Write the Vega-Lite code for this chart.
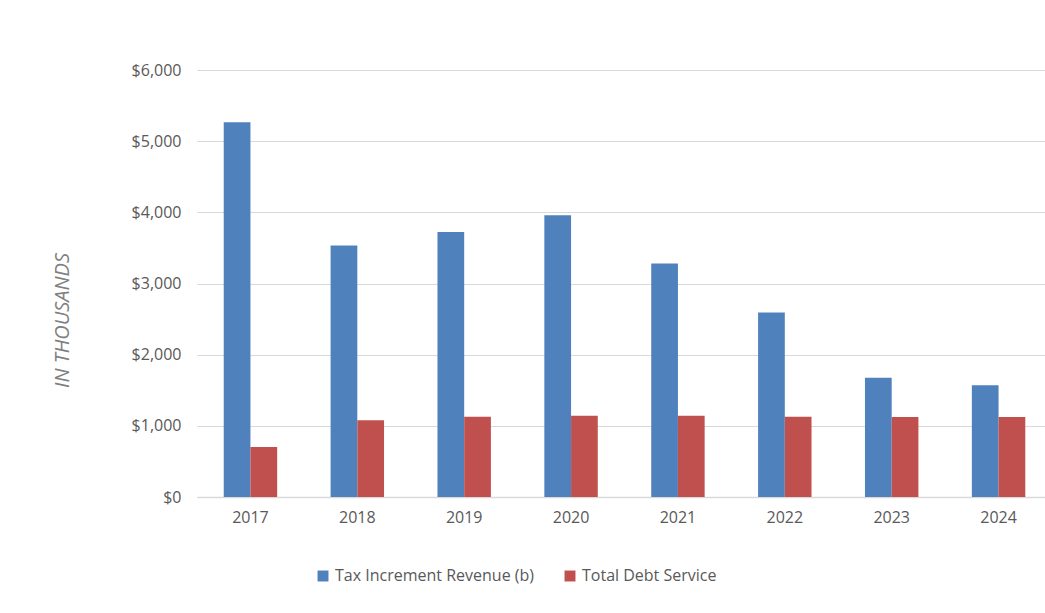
{
  "$schema": "https://vega.github.io/schema/vega-lite/v6.json",
  "width": 855,
  "height": 427,
  "autosize": {"type": "none"},
  "padding": {"left": 197, "top": 70, "right": 0, "bottom": 116},
  "background": "white",
  "config": {
    "view": {"stroke": null},
    "font": "Open Sans",
    "axis": {"labelFont": "Open Sans", "labelColor": "#595959", "labelFontSize": 16},
    "legend": {"labelFont": "Open Sans", "labelColor": "#595959", "labelFontSize": 16}
  },
  "data": {
    "values": [
      {"year": "2017", "series": "Tax Increment Revenue (b)", "value": 5267},
      {"year": "2017", "series": "Total Debt Service", "value": 702},
      {"year": "2018", "series": "Tax Increment Revenue (b)", "value": 3535},
      {"year": "2018", "series": "Total Debt Service", "value": 1077},
      {"year": "2019", "series": "Tax Increment Revenue (b)", "value": 3722},
      {"year": "2019", "series": "Total Debt Service", "value": 1127},
      {"year": "2020", "series": "Tax Increment Revenue (b)", "value": 3958},
      {"year": "2020", "series": "Total Debt Service", "value": 1141},
      {"year": "2021", "series": "Tax Increment Revenue (b)", "value": 3282},
      {"year": "2021", "series": "Total Debt Service", "value": 1141},
      {"year": "2022", "series": "Tax Increment Revenue (b)", "value": 2592},
      {"year": "2022", "series": "Total Debt Service", "value": 1127},
      {"year": "2023", "series": "Tax Increment Revenue (b)", "value": 1677},
      {"year": "2023", "series": "Total Debt Service", "value": 1124},
      {"year": "2024", "series": "Tax Increment Revenue (b)", "value": 1569},
      {"year": "2024", "series": "Total Debt Service", "value": 1124}
    ]
  },
  "mark": {"type": "bar"},
  "encoding": {
    "x": {
      "field": "year", "type": "nominal",
      "scale": {"paddingInner": 0.5, "paddingOuter": 0.25},
      "axis": {"title": null, "labelAngle": 0, "ticks": false, "domainColor": "#d9d9d9", "domainWidth": 1.5, "labelPadding": 12}
    },
    "xOffset": {"field": "series", "type": "nominal", "scale": {"paddingInner": 0, "paddingOuter": 0}},
    "y": {
      "field": "value", "type": "quantitative",
      "scale": {"domain": [0, 6000]},
      "axis": {
        "values": [0, 1000, 2000, 3000, 4000, 5000, 6000],
        "format": "$,.0f",
        "domain": false, "ticks": false, "gridColor": "#d9d9d9", "labelPadding": 16,
        "title": "IN THOUSANDS", "titleFontStyle": "italic", "titleFontWeight": "normal",
        "titleFontSize": 20, "titleColor": "#808080", "titleFont": "Open Sans",
        "titleAngle": -90, "titleX": -135, "titleY": 250, "titleAlign": "center", "titleBaseline": "middle"
      }
    },
    "color": {
      "field": "series", "type": "nominal",
      "scale": {"domain": ["Tax Increment Revenue (b)", "Total Debt Service"], "range": ["#4f81bd", "#c0504d"]},
      "legend": {
        "title": null, "orient": "none", "direction": "horizontal",
        "legendX": 118, "legendY": 498, "symbolType": "square", "symbolSize": 120,
        "symbolStrokeWidth": 0, "columnPadding": 28, "labelOffset": 4, "labelLimit": 400
      }
    }
  }
}
